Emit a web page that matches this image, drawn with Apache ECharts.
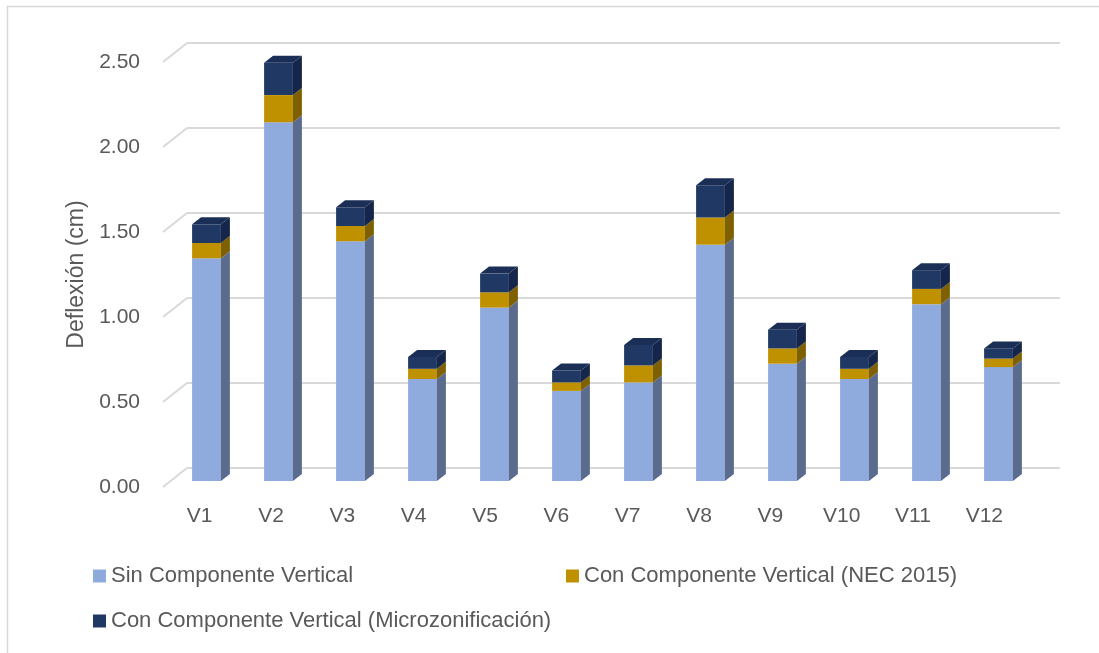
<!DOCTYPE html>
<html>
<head>
<meta charset="utf-8">
<script src="https://cdn.jsdelivr.net/npm/echarts@6/dist/echarts.min.js"></script>
<style>
  html, body { margin: 0; padding: 0; background: #fff; }
  #main { width: 1099px; height: 653px; }
</style>
</head>
<body>
<div id="main"></div>
<script>
// valores (cm)
const categories = ['V1', 'V2', 'V3', 'V4', 'V5', 'V6', 'V7', 'V8', 'V9', 'V10', 'V11', 'V12'];
const sinComponente = [1.31, 2.11, 1.41, 0.60, 1.02, 0.53, 0.58, 1.39, 0.69, 0.60, 1.04, 0.67];
const conNec2015 = [0.09, 0.16, 0.09, 0.06, 0.09, 0.05, 0.10, 0.16, 0.09, 0.06, 0.09, 0.05];
const conMicrozon = [0.11, 0.19, 0.11, 0.07, 0.11, 0.07, 0.12, 0.19, 0.11, 0.07, 0.11, 0.06];
const yTicks = [0, 0.5, 1, 1.5, 2, 2.5];

const names = [
  'Sin Componente Vertical',
  'Con Componente Vertical (NEC 2015)',
  'Con Componente Vertical (Microzonificación)'
];
const colors = [
  { front: '#8FAADC', side: '#5B6B8E', top: '#A9BFE6' },
  { front: '#BF9000', side: '#7F6000', top: '#D4A820' },
  { front: '#203864', side: '#16264A', top: '#1B2F56' }
];

const FONT = '"Liberation Sans", Arial, sans-serif';
const TXT = '#595959';
const DX = 9, DY = 7; // profundidad de las barras

// apilar
function stackData(layers) {
  const out = [];
  const base = categories.map(() => 0);
  layers.forEach(vals => {
    out.push(vals.map((v, i) => {
      const b = base[i];
      base[i] = b + v;
      return [i, b, b + v];
    }));
  });
  return out;
}
const stacked = stackData([sinComponente, conNec2015, conMicrozon]);

function barRender(c, drawTop) {
  return function (params, api) {
    const i = api.value(0);
    const pb = api.coord([i, api.value(1)]);
    const pt = api.coord([i, api.value(2)]);
    const w = api.size([1, 0])[0] * 0.4;
    const x0 = pb[0] - w / 2, x1 = x0 + w;
    const yb = pb[1], yt = pt[1];
    const children = [
      { type: 'rect', shape: { x: x0, y: yt, width: w, height: yb - yt }, style: { fill: c.front } },
      { type: 'polygon', shape: { points: [[x1, yt], [x1 + DX, yt - DY], [x1 + DX, yb - DY], [x1, yb]] }, style: { fill: c.side } }
    ];
    if (drawTop) {
      children.push({ type: 'polygon', shape: { points: [[x0, yt], [x0 + DX, yt - DY], [x1 + DX, yt - DY], [x1, yt]] }, style: { fill: c.top } });
    }
    return { type: 'group', children: children };
  };
}

const barSeries = stacked.map((data, k) => ({
  name: names[k],
  type: 'custom',
  xAxisIndex: 2,
  yAxisIndex: 2,
  itemStyle: { color: colors[k].front },
  renderItem: barRender(colors[k], k === stacked.length - 1),
  data: data,
  z: 3
}));

const chart = echarts.init(document.getElementById('main'));
chart.setOption({
  animation: false,
  backgroundColor: '#fff',
  graphic: [{
    type: 'rect',
    shape: { x: 7.5, y: 6.5, width: 1200, height: 800 },
    style: { fill: 'none', stroke: '#D9D9D9', lineWidth: 1.5 },
    silent: true
  }],
  grid: [
    { left: 187, top: 43, width: 873, height: 425 },   // pared del fondo
    { left: 164, top: 62, width: 856, height: 425 },   // rótulos
    { left: 170.5, top: 56, width: 864, height: 425 }  // barras
  ],
  xAxis: [
    { gridIndex: 0, type: 'value', min: 0, max: 1, show: false },
    {
      gridIndex: 1, type: 'category', data: categories,
      axisLine: { show: false }, axisTick: { show: false },
      axisLabel: { color: TXT, fontSize: 21, fontFamily: FONT, margin: 19 }
    },
    { gridIndex: 2, type: 'category', data: categories, show: false }
  ],
  yAxis: [
    {
      gridIndex: 0, type: 'value', min: 0, max: 2.5, interval: 0.5,
      axisLine: { show: false }, axisTick: { show: false }, axisLabel: { show: false },
      splitLine: { lineStyle: { color: '#D9D9D9', width: 2 } }
    },
    {
      gridIndex: 1, type: 'value', min: 0, max: 2.5, interval: 0.5,
      axisLine: { show: false }, axisTick: { show: false }, splitLine: { show: false },
      axisLabel: { color: TXT, fontSize: 21, fontFamily: FONT, margin: 24, formatter: v => v.toFixed(2) },
      name: 'Deflexión (cm)', nameLocation: 'middle', nameGap: 76, nameRotate: 90,
      nameTextStyle: { color: TXT, fontSize: 23, fontFamily: FONT }
    },
    { gridIndex: 2, type: 'value', min: 0, max: 2.5, show: false }
  ],
  legend: [
    { data: [names[0]], left: 93, top: 565 },
    { data: [names[1]], left: 566, top: 565 },
    { data: [names[2]], left: 93, top: 610 }
  ].map(l => Object.assign(l, {
    padding: 0, itemWidth: 13, itemHeight: 13, icon: 'rect',
    textStyle: { color: TXT, fontSize: 22, fontFamily: FONT }
  })),
  series: [{
    type: 'custom',
    xAxisIndex: 0,
    yAxisIndex: 0,
    silent: true,
    z: 1,
    data: yTicks.map(v => [0, v]),
    renderItem: function (params, api) {
      const p = api.coord([0, api.value(1)]);
      return {
        type: 'line',
        shape: { x1: p[0] - 24, y1: p[1] + 19, x2: p[0], y2: p[1] },
        style: { stroke: '#D9D9D9', lineWidth: 2 }
      };
    }
  }].concat(barSeries)
});
</script>
</body>
</html>
